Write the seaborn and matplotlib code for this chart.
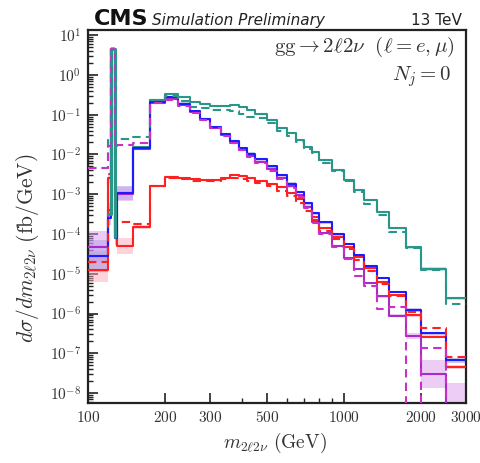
import matplotlib
matplotlib.use("Agg")
import matplotlib.pyplot as plt
from matplotlib.ticker import FixedLocator, FixedFormatter, NullFormatter
import numpy as np
import seaborn as sns

sns.set_theme(style="white")
plt.rcParams["font.family"] = ["DejaVu Sans"]
plt.rcParams["mathtext.fontset"] = "cm"

# m_2l2nu bin edges (GeV)
edges = [100, 120, 123, 127, 130, 150, 175, 200, 225, 250, 275, 300, 330, 360,
         390, 420, 450, 500, 550, 600, 650, 700, 750, 800, 900, 1000, 1100,
         1200, 1350, 1500, 1750, 2000, 2500, 3000]

# dsigma/dm (fb/GeV) per bin
teal_solid = [2.8e-5, 3.2e-4, 4.6, 8.5e-5, 1.05e-3, 1.55e-2, 0.23, 0.34, 0.28,
              0.21, 0.19, 0.166, 0.166, 0.18, 0.158, 0.135, 0.105, 0.072, 0.045,
              0.034, 0.023, 0.0155, 0.0117, 0.0072, 0.0041, 0.0023, 0.0013,
              7.1e-4, 3.6e-4, 1.38e-4, 4.6e-5, 1.35e-5, 2.4e-6]
teal_dashed = [4.7e-3, 0.023, 4.6, 0.023, 0.024, 0.0275, 0.24, 0.295, 0.224,
               0.158, 0.145, 0.132, 0.135, 0.126, 0.107, 0.089, 0.081, 0.063,
               0.040, 0.0295, 0.0204, 0.0135, 0.0107, 0.006, 0.0038, 0.0022,
               0.00112, 5.6e-4, 3.0e-4, 1.15e-4, 4.4e-5, 1.26e-5, 1.74e-6]
blue_solid = [2.8e-5, 2.5e-4, 4.6, 7.9e-5, 1.05e-3, 0.0148, 0.21, 0.275, 0.19,
              0.126, 0.079, 0.050, 0.033, 0.022, 0.0145, 0.0105, 0.0076, 0.0050,
              0.0030, 0.00186, 0.00115, 5.9e-4, 3.3e-4, 1.95e-4, 9.8e-5, 5.5e-5,
              3.0e-5, 1.58e-5, 7.9e-6, 3.5e-6, 1.23e-6, 3.2e-7, 6.6e-8]
purple_solid = [4.7e-5, 4.0e-4, 4.6, 7.9e-5, 1.0e-3, 0.0141, 0.20, 0.25, 0.174,
                0.117, 0.076, 0.047, 0.031, 0.020, 0.0132, 0.0093, 0.0066,
                0.0044, 0.0026, 0.00158, 9.5e-4, 4.9e-4, 2.04e-4, 1.05e-4,
                5.0e-5, 2.5e-5, 1.32e-5, 5.8e-6, 2.7e-6, 8.9e-7, 2.75e-7,
                3.0e-8, 4.0e-9]
purple_dashed = [4.7e-3, 0.0162, 4.6, 0.0162, 0.0178, 0.019, 0.20, 0.24, 0.166,
                 0.112, 0.072, 0.045, 0.0295, 0.019, 0.0126, 0.0087, 0.006,
                 0.0038, 0.0024, 0.00145, 8.7e-4, 4.4e-4, 1.9e-4, 1.0e-4, 4.8e-5,
                 2.4e-5, 8.9e-6, 5.0e-6, 1.32e-6, 1.48e-6, 1e-9, 1.38e-7, 1e-9]
red_solid = [1.26e-5, 2.5e-3, 4.6, 1.8e-4, 5.0e-5, 1.5e-4, 1.6e-3, 2.75e-3,
             2.5e-3, 2.35e-3, 2.3e-3, 2.3e-3, 2.5e-3, 3.0e-3, 2.9e-3, 2.5e-3,
             2.2e-3, 1.8e-3, 1.48e-3, 1.07e-3, 7.4e-4, 4.7e-4, 2.6e-4, 1.38e-4,
             8.5e-5, 4.8e-5, 2.6e-5, 1.38e-5, 6.3e-6, 3.0e-6, 9.1e-7, 2.6e-7,
             4.5e-8]
red_dashed = [2.0e-5, 3.2e-3, 4.6, 1.95e-4, 1.95e-4, 1.74e-4, 1.58e-3, 2.5e-3,
              2.35e-3, 2.2e-3, 2.15e-3, 2.2e-3, 2.35e-3, 2.6e-3, 2.4e-3, 2.2e-3,
              1.9e-3, 1.58e-3, 1.2e-3, 8.9e-4, 6.0e-4, 3.8e-4, 2.2e-4, 1.2e-4,
              7.4e-5, 4.2e-5, 2.2e-5, 1.2e-5, 5.6e-6, 2.8e-6, 1.12e-6, 4.3e-7,
              8.3e-8]

# multiplicative uncertainty envelopes
teal_unc = [1.3, 1.2, 1.05, 1.2, 1.1] + [1.04] * 24 + [1.06, 1.08, 1.12, 1.1]
blue_unc = [2.5, 1.5, 1.1, 1.5, 1.5, 1.1] + [1.07] * 24 + [1.1, 1.1, 1.15]
purple_unc = [2.5, 1.5, 1.1, 1.5, 1.5, 1.1] + [1.08] * 23 + [1.12, 1.2, 2.2, 4.5]
red_unc = [2.0, 1.3, 1.1, 1.5, 1.6, 1.1] + [1.05] * 24 + [1.1, 1.1, 1.12]

TEAL = "#2a968a"
BLUE = "#1c1cff"
PURPLE = "#a42cc8"
MAGENTA = "#cc2fc4"
RED = "#ff2020"

fig = plt.figure(figsize=(4.81, 4.63), dpi=100)
ax = fig.add_axes([88 / 481, 60 / 463, 378 / 481, 373 / 463])
ax.set_xscale("log")
ax.set_yscale("log")


def stepped(vals):
    return list(vals) + [vals[-1]]


# uncertainty bands
for vals, unc, color, alpha in [
    (teal_solid, teal_unc, "#9fd8cf", 0.6),
    (red_solid, red_unc, "#ffa9ba", 0.5),
    (blue_solid, blue_unc, "#8a8ae6", 0.45),
    (purple_solid, purple_unc, "#dc9cee", 0.5),
]:
    v = np.array(stepped(vals))
    u = np.array(stepped(unc))
    ax.fill_between(edges, v / u, v * u, step="post", color=color,
                    alpha=alpha, lw=0, zorder=1)

dash = (0, (4, 2.5))
lines = [
    (teal_solid, TEAL, "-", 1.5, 3),
    (red_solid, RED, "-", 1.5, 4),
    (purple_solid, PURPLE, "-", 1.5, 5),
    (blue_solid, BLUE, "-", 1.5, 6),
    (teal_dashed, TEAL, dash, 1.5, 7),
    (red_dashed, RED, dash, 1.5, 8),
    (purple_dashed, MAGENTA, dash, 1.5, 9),
]
for vals, color, ls, lw, z in lines:
    sns.lineplot(x=edges, y=stepped(vals), ax=ax, color=color, linestyle=ls,
                 lw=lw, drawstyle="steps-post", estimator=None, sort=False,
                 zorder=z)

# the Higgs-peak bin is drawn last so its teal outline stays on top
peak = slice(1, 4)
sns.lineplot(x=edges[peak], y=teal_solid[peak], ax=ax, color=TEAL, lw=2.2,
             drawstyle="steps-post", estimator=None, sort=False, zorder=10)
sns.lineplot(x=edges[peak], y=purple_dashed[peak], ax=ax, color=MAGENTA,
             lw=1.2, linestyle=dash, drawstyle="steps-post", estimator=None,
             sort=False, zorder=11)

ax.set_xlim(100, 3000)
ax.set_ylim(10 ** -8.25, 10 ** 1.13)

xt = [100, 200, 300, 500, 1000, 2000, 3000]
ax.xaxis.set_major_locator(FixedLocator(xt))
ax.xaxis.set_major_formatter(FixedFormatter([r"$%d$" % t for t in xt]))
ax.xaxis.set_minor_locator(FixedLocator([400, 600, 700, 800, 900]))
ax.xaxis.set_minor_formatter(NullFormatter())

yexp = list(range(-8, 2))
ax.yaxis.set_major_locator(FixedLocator([10.0 ** e for e in yexp]))
ax.yaxis.set_major_formatter(FixedFormatter([r"$10^{%d}$" % e for e in yexp]))
ax.yaxis.set_minor_locator(FixedLocator(
    [m * 10.0 ** e for e in range(-9, 2) for m in range(2, 10)]))
ax.yaxis.set_minor_formatter(NullFormatter())

ax.tick_params(which="both", direction="in", top=False, right=False,
               left=True, bottom=True, color="#222222", labelsize=11,
               labelcolor="#333333")
ax.tick_params(which="major", length=7, width=1.2, pad=5)
ax.tick_params(which="minor", length=3.5, width=1.0)
for s in ax.spines.values():
    s.set_linewidth(1.6)
    s.set_color("#222222")
ax.set_xlabel("")
ax.set_ylabel("")

fig.text(94 / 481, 1 - 25 / 463, "CMS", fontsize=16, fontweight="bold",
         ha="left", va="baseline", color="#111111")
fig.text(152 / 481, 1 - 25 / 463, "Simulation Preliminary", fontsize=11,
         style="italic", ha="left", va="baseline", color="#222222")
fig.text(462 / 481, 1 - 25 / 463, "13 TeV", fontsize=11, ha="right",
         va="baseline", color="#222222")

ax.text(0.970, 0.941, r"$\mathrm{gg} \rightarrow 2\ell 2\nu\ \ (\ell = e, \mu)$",
        transform=ax.transAxes, ha="right", va="baseline", fontsize=15,
        color="#333333")
ax.text(0.96, 0.866, r"$N_j = 0$", transform=ax.transAxes, ha="right",
        va="baseline", fontsize=15, color="#333333")

fig.text(28 / 481, 1 - 248 / 463,
         r"$d\sigma/dm_{2\ell 2\nu}\ (\mathrm{fb/GeV})$", rotation=90,
         ha="center", va="center", fontsize=15.5, color="#333333")
fig.text(275 / 481, 1 - 443 / 463, r"$m_{2\ell 2\nu}\ (\mathrm{GeV})$",
         ha="center", va="center", fontsize=14, color="#333333")

fig.savefig("out.png", dpi=100)
